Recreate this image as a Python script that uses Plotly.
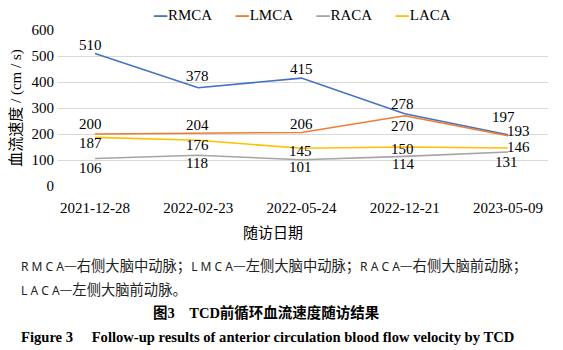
import plotly.graph_objects as go

dates = ["2021-12-28", "2022-02-23", "2022-05-24", "2022-12-21", "2023-05-09"]
rmca = [510, 378, 415, 278, 197]
lmca = [200, 204, 206, 270, 193]
raca = [106, 118, 101, 114, 131]
laca = [187, 176, 145, 150, 146]
y_ticks = [0, 100, 200, 300, 400, 500, 600]
names = ["RMCA", "LMCA", "RACA", "LACA"]
colors = ["#4472C4", "#ED7D31", "#A5A5A5", "#FFC000"]

# label offsets in pixels (dx right, dy down) relative to each point
label_offsets = [
    [(-4, -8), (-1, -12), (0, -9), (-2, -10), (-4, -18)],
    [(-4, -10), (-1, -8), (0, -8), (-2, 10), (11, -5)],
    [(-4, 10), (-1, 8), (-1, 7), (-2, 8), (-1, 10)],
    [(-4, 6), (-1, 5), (-1, 3), (-2, 2), (11, -1)],
]

SERIF = "Liberation Serif"
SERIF_CJK = "Liberation Serif, Noto Sans CJK SC"
fig = go.Figure()
all_vals = [rmca, lmca, raca, laca]
for name, vals, color in zip(names, all_vals, colors):
    fig.add_trace(go.Scatter(
        x=list(range(len(dates))), y=vals, name=name, mode="lines",
        line=dict(color=color, width=1.6), showlegend=False,
    ))

for vals, offs in zip(all_vals, label_offsets):
    for i, (v, (dx, dy)) in enumerate(zip(vals, offs)):
        fig.add_annotation(x=i, y=v, xref="x", yref="y", text=str(v), showarrow=False,
                           xanchor="center", yanchor="middle", xshift=dx, yshift=-dy,
                           font=dict(family=SERIF, size=15, color="#000"))

fig.update_layout(
    width=563, height=350,
    margin=dict(l=58, r=15, t=30, b=164),
    paper_bgcolor="white", plot_bgcolor="white",
    font=dict(family=SERIF, size=15, color="#000000"),
    showlegend=False,
    xaxis=dict(tickmode="array", tickvals=list(range(len(dates))), ticktext=dates,
               range=[-0.358, 4.388], showgrid=False, zeroline=False, showline=False,
               ticks="", ticklabelstandoff=11, tickfont=dict(family=SERIF, size=15)),
    yaxis=dict(tickmode="array", tickvals=y_ticks, range=[0, 600],
               showgrid=True, gridcolor="#D9D9D9", gridwidth=1, zeroline=False,
               showline=False, ticks="", ticklabelstandoff=3,
               tickfont=dict(family=SERIF, size=15),
               title=dict(text="血流速度 / (cm / s)", font=dict(family=SERIF_CJK, size=15), standoff=6)),
)

# legend (colored dash + series name)
sp = "&nbsp;" * 6
legend_txt = sp.join(
    f'<span style="font-family:DejaVu Serif;color:{c}"><b>—</b></span>{n}'
    for n, c in zip(names, colors))
fig.add_annotation(xref="paper", yref="paper", x=0.498, y=1.0, xanchor="center", yanchor="bottom",
                   yshift=4, text=legend_txt, showarrow=False,
                   font=dict(family=SERIF, size=15, color="#000"))

# x axis title
fig.add_annotation(xref="paper", yref="paper", x=0.439, y=-0.301, xanchor="center", yanchor="middle",
                   text="随访日期", showarrow=False, font=dict(family=SERIF_CJK, size=15, color="#000"))

CAP = "Noto Sans CJK SC"
def lat(s):
    return f'<span style="font-family:Noto Sans;font-size:12px">{s}</span>'

line1 = (lat("R M C A") + "—右侧大脑中动脉；" + lat("L M C A") + "—左侧大脑中动脉；"
         + lat("R A C A") + "—右侧大脑前动脉；")
line2 = lat("L A C A") + "—左侧大脑前动脉。"
fig.add_annotation(xref="paper", yref="paper", x=-0.0796, y=-0.50, xanchor="left", yanchor="middle",
                   text=line1, showarrow=False, font=dict(family=CAP, size=14.3, color="#222"))
fig.add_annotation(xref="paper", yref="paper", x=-0.0796, y=-0.66, xanchor="left", yanchor="middle",
                   text=line2, showarrow=False, font=dict(family=CAP, size=14.3, color="#222"))
fig.add_annotation(xref="paper", yref="paper", x=0.4265, y=-0.808, xanchor="center", yanchor="middle",
                   text="<b>图3　TCD前循环血流速度随访结果</b>",
                   showarrow=False, font=dict(family=SERIF_CJK, size=14.5, color="#000"))
fig.add_annotation(xref="paper", yref="paper", x=-0.0796, y=-0.968, xanchor="left", yanchor="middle",
                   text="<b>Figure 3　 Follow-up results of anterior circulation blood flow velocity by TCD</b>",
                   showarrow=False, font=dict(family=SERIF, size=14.6, color="#000"))

fig.write_html("out.html")
